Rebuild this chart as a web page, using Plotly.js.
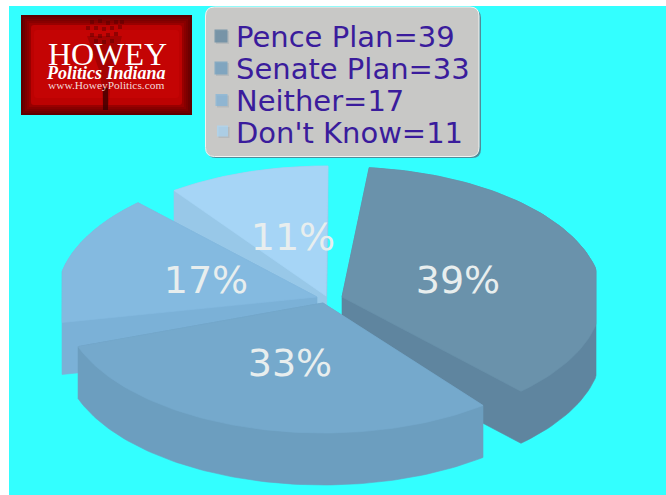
<!DOCTYPE html>
<html>
<head>
<meta charset="utf-8">
<script src="https://cdn.plot.ly/plotly-3.0.1.min.js"></script>
<style>html,body{margin:0;padding:0;background:#fff}#chart{width:666px;height:495px}</style>
</head>
<body>
<div id="chart"></div>
<script>
// Poll results
const categories = ["Pence Plan", "Senate Plan", "Neither", "Don't Know"];
const values = [39, 33, 17, 11];

// Slice styling
const topColors = ["#6A92AB", "#75A9CC", "#84BAE0", "#A6D5F6"];
const sideColors = ["#5F859F", "#6C9EBF", "#7BB1D7", "#98C8E8"];
const swatchColors = ["#5C849E", "#6A9DC0", "#7FB4DA", "#A8D6F5"];

// Pie geometry: each slice is pulled away from the middle and trimmed to its box
const radiusX = 260, radiusY = 130, depth = 52;
const sliceCentres = [[342, 297], [323, 303], [317, 297], [326, 296]];
const sliceBoundsX = [[342, 596], [78, 483], [62, 330], [174, 328]];
const startTrim = [6, 1.6, -0.5, 3.8];
const endTrim = [-3.9, -8.8, -3.9, 0.5];
const labelSpots = [[458, 283], [290, 366], [206, 283], [293, 240]];
const drawOrder = [3, 2, 0, 1];

const total = values.reduce((a, b) => a + b, 0);
function wedge(i) {
  const before = values.slice(0, i).reduce((a, b) => a + b, 0);
  const a0 = before / total * 360 + startTrim[i];
  const a1 = (before + values[i]) / total * 360 + endTrim[i];
  const [cx, cy] = sliceCentres[i];
  const [lo, hi] = sliceBoundsX[i];
  const pts = [[cx, cy]];
  const steps = 90;
  for (let s = 0; s <= steps; s++) {
    const t = (a0 + (a1 - a0) * s / steps) * Math.PI / 180;
    pts.push([Math.min(hi, Math.max(lo, cx + radiusX * Math.sin(t))), cy - radiusY * Math.cos(t)]);
  }
  return pts;
}
function hull(points) {
  const p = points.slice().sort((a, b) => a[0] - b[0] || a[1] - b[1]);
  const cross = (o, a, b) => (a[0] - o[0]) * (b[1] - o[1]) - (a[1] - o[1]) * (b[0] - o[0]);
  const build = list => {
    const out = [];
    for (const q of list) {
      while (out.length >= 2 && cross(out[out.length - 2], out[out.length - 1], q) <= 0) out.pop();
      out.push(q);
    }
    out.pop();
    return out;
  };
  return build(p).concat(build(p.reverse()));
}
function polyTrace(pts, color, name) {
  return {
    type: "scatter", mode: "lines", fill: "toself", fillcolor: color,
    x: pts.map(q => q[0]).concat(pts[0][0]),
    y: pts.map(q => q[1]).concat(pts[0][1]),
    line: {color: color, width: 0.6},
    name: name, hoverinfo: "name", showlegend: false
  };
}

const traces = [];
drawOrder.forEach(i => {
  const top = wedge(i);
  const bottom = top.map(q => [q[0], q[1] + depth]);
  traces.push(polyTrace(hull(top.concat(bottom)), sideColors[i], categories[i]));
  traces.push(polyTrace(top, topColors[i], categories[i]));
});

// Percent labels on the slices
traces.push({
  type: "scatter", mode: "text",
  x: labelSpots.map(q => q[0]), y: labelSpots.map(q => q[1]),
  text: values.map(v => v + "%"),
  textposition: "middle center",
  textfont: {family: "DejaVu Sans", size: 38, color: "#E8EEEE"},
  hoverinfo: "skip", showlegend: false
});

// Key: swatches with a soft offset shadow, then the text
const keySwatchX = [221, 221, 221.5, 222.5];
const keySwatchY = [36, 68, 100, 131];
const keySizes = [13, 13, 12, 11];
traces.push({
  type: "scatter", mode: "markers",
  x: keySwatchX.map(v => v + 1.5), y: keySwatchY.map(v => v + 1.5),
  marker: {symbol: "square", size: keySizes, color: "#AEB4B8", line: {width: 0}},
  hoverinfo: "skip", showlegend: false
});
traces.push({
  type: "scatter", mode: "markers",
  x: keySwatchX, y: keySwatchY,
  marker: {symbol: "square", size: keySizes, color: swatchColors, line: {width: 0}},
  hoverinfo: "skip", showlegend: false
});
const keyTextY = [37, 69, 101, 133];
const keyAnnotations = categories.map((c, i) => ({
  xref: "x", yref: "y", x: 234, y: keyTextY[i], xanchor: "left", yanchor: "middle",
  text: c + "=" + values[i], showarrow: false,
  font: {family: "DejaVu Sans", size: 29, color: "#3A1C9C"}
}));

// Publisher badge
const torchDotsX = [92, 100, 108, 116, 122, 88, 96, 104, 112, 120, 92, 100, 108, 116, 96, 104, 112];
const torchDotsY = [22, 21, 23, 22, 22, 28, 28, 29, 28, 27, 35, 36, 35, 34, 41, 42, 41];
const badgeText = [
  {text: "HOWEY", x: 107, y: 54, font: {family: "Liberation Serif", size: 32, color: "#FFFFFF"}},
  {text: "<b><i>Politics Indiana</i></b>", x: 105.5, y: 73, font: {family: "Liberation Serif", size: 18, color: "#FFFFFF"}},
  {text: "www.HoweyPolitics.com", x: 105.5, y: 85, font: {family: "Liberation Serif", size: 11.4, color: "#F3DADA"}}
].map(a => Object.assign({xref: "x", yref: "y", showarrow: false, xanchor: "center", yanchor: "middle"}, a));

traces.push({
  type: "scatter", mode: "markers", x: torchDotsX, y: torchDotsY,
  marker: {symbol: "square", size: 4, color: "rgba(70,0,0,0.4)", line: {width: 0}},
  hoverinfo: "skip", showlegend: false
});

const rect = (x0, y0, x1, y1, fill, layer) => ({
  type: "rect", xref: "x", yref: "y", x0, y0, x1, y1, layer: layer || "below",
  fillcolor: fill, line: {width: 0}
});
const roundBox = (x0, y0, x1, y1, r) =>
  `M${x0 + r},${y0} L${x1 - r},${y0} Q${x1},${y0} ${x1},${y0 + r} L${x1},${y1 - r} Q${x1},${y1} ${x1 - r},${y1} ` +
  `L${x0 + r},${y1} Q${x0},${y1} ${x0},${y1 - r} L${x0},${y0 + r} Q${x0},${y0} ${x0 + r},${y0} Z`;

const shapes = [
  rect(9, 6, 666, 495, "#33FFFF"),
  // Key panel with its shadow and pale rim
  {type: "path", layer: "below", xref: "x", yref: "y", path: roundBox(207, 9, 481, 158, 9), fillcolor: "#4E8C9A", line: {width: 0}},
  {type: "path", layer: "below", xref: "x", yref: "y", path: roundBox(205.5, 7, 479, 156.5, 9), fillcolor: "#C8C8C6", line: {color: "#F2F4F2", width: 1}},
  // Badge: dark frame fading into a bright panel, torch silhouette
  rect(21, 15, 192, 115, "#5E0000"),
  rect(23, 17, 190, 113, "#6E0000"),
  rect(25, 19, 188, 111, "#7C0000"),
  rect(27, 21, 186, 109, "#880000"),
  rect(29, 23, 184, 107, "#980000"),
  {type: "path", layer: "below", xref: "x", yref: "y", path: roundBox(31, 25, 182, 105, 3), fillcolor: "#BC0202", line: {width: 0}},
  {type: "path", layer: "below", xref: "x", yref: "y", path: roundBox(34, 30, 179, 98, 3), fillcolor: "#C40404", line: {width: 0}},
  {type: "path", layer: "below", xref: "x", yref: "y", path: "M87,36 L122,36 L113,70 L110,90 L108,110 L103,110 L102,88 L99,70 Z", fillcolor: "rgba(110,0,0,0.35)", line: {width: 0}},
  rect(103, 88, 108, 110, "rgba(45,0,0,0.65)")
];

const layout = {
  width: 666, height: 495,
  margin: {l: 0, r: 0, t: 0, b: 0},
  paper_bgcolor: "#FFFFFF", plot_bgcolor: "rgba(0,0,0,0)",
  xaxis: {range: [0, 666], visible: false, fixedrange: true},
  yaxis: {range: [495, 0], visible: false, fixedrange: true},
  shapes: shapes,
  annotations: keyAnnotations.concat(badgeText),
  showlegend: false
};
Plotly.newPlot("chart", traces, layout, {displayModeBar: false, staticPlot: true});
</script>
</body>
</html>
